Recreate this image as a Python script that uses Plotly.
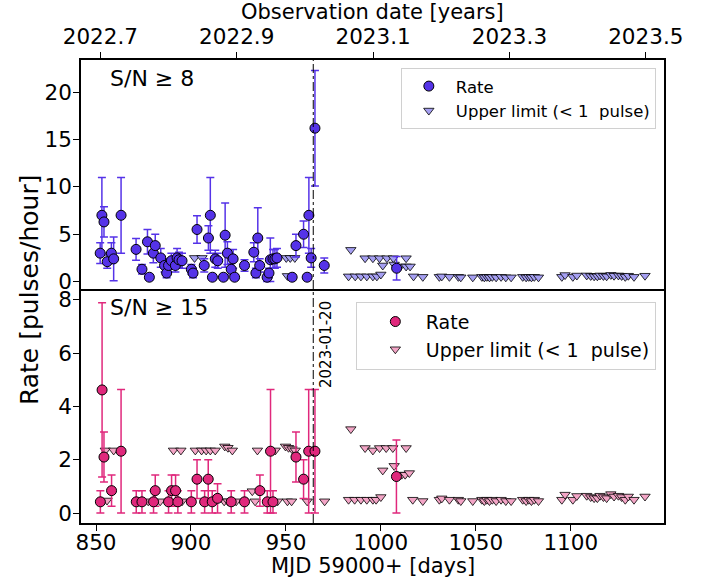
import plotly.graph_objects as go

# ---------------- data ----------------
# S/N >= 8 detections
top_rate_mjd = [852.2, 853.1, 854.2, 855.9, 858.1, 859.3, 863.2, 871.1, 874.2, 877.1,
                878.1, 880.2, 881.2, 884.1, 886.1, 887.2, 888.2, 889.7, 891.8, 892.7,
                893.7, 895.3, 900.2, 901.1, 903.2, 907.0, 909.2, 910.2, 911.3, 912.8,
                914.1, 917.1, 918.0, 919.2, 921.2, 922.2, 923.0, 928.2, 933.1, 934.2,
                935.2, 936.2, 940.1, 941.1, 941.8, 943.2, 944.2, 945.3, 953.3, 955.3,
                959.3, 961.2, 962.1, 963.3, 965.3, 970.2, 1008.3]
top_rate = [3.0, 7.0, 6.3, 2.1, 3.0, 2.4, 7.0, 3.4, 1.3, 4.2,
            0.46, 3.0, 3.8, 2.5, 1.7, 0.9, 1.7, 2.2, 1.7, 2.5,
            2.3, 2.2, 1.3, 0.9, 5.5, 1.7, 4.6, 7.0, 0.46, 2.4,
            2.2, 0.46, 4.9, 3.0, 1.3, 2.4, 0.46, 1.7, 3.1, 0.9,
            4.6, 1.7, 0.46, 0.9, 2.3, 2.4, 2.4, 2.5, 0.46, 3.8,
            5.0, 0.46, 7.0, 2.5, 16.2, 1.7, 1.41]
top_rate_err = [1.1, 4.0, 1.6, 0.7, 1.1, 2.3, 4.0, 1.15, 0.5, 1.3,
                0.3, 1.0, 1.2, 1.0, 0.7, 0.5, 0.7, 0.8, 0.7, 1.0,
                0.8, 0.8, 0.5, 0.5, 1.45, 0.7, 1.3, 4.0, 0.3, 0.9,
                0.8, 0.3, 3.4, 1.2, 0.6, 1.0, 0.3, 0.6, 1.0, 0.5,
                3.2, 0.7, 0.46, 0.5, 2.3, 1.0, 1.0, 1.0, 0.3, 1.2,
                1.4, 0.3, 4.0, 1.0, 6.1, 0.8, 1.25]

top_ul_mjd = [901.9, 905.8, 950.2, 950.8, 952.3, 954.7,
              983.0, 984.2, 986.5, 989.5, 991.7, 992.6, 995.8, 995.8, 997.9, 999.3,
              1000.0, 1001.0, 1003.2, 1006.6, 1007.0, 1010.2, 1013.3, 1013.3, 1015.4,
              1017.2, 1022.1]
top_ul = [2.5, 2.5, 2.5, 0.6, 2.5, 2.5,
          0.55, 3.35, 0.55, 0.55, 2.47, 0.55, 0.55, 2.47, 0.55, 2.47,
          0.75, 1.7, 2.47, 2.47, 1.8, 1.6, 2.47, 1.6, 1.6,
          0.55, 0.5]

# S/N >= 15 detections
bot_rate_mjd = [852.3, 853.2, 854.2, 858.2, 863.2, 871.2, 874.2, 880.3, 881.2, 888.2,
                889.8, 891.9, 893.1, 900.2, 903.2, 907.2, 909.1, 911.2, 914.0, 921.2,
                928.2, 936.3, 940.2, 941.9, 943.2, 955.3, 959.3, 962.0, 965.3, 1008.2]
bot_rate = [0.42, 4.62, 2.1, 0.84, 2.32, 0.42, 0.42, 0.42, 0.84, 0.42,
            0.84, 0.84, 0.42, 0.42, 1.27, 0.42, 1.27, 0.42, 0.55, 0.42,
            0.42, 0.84, 0.42, 2.32, 0.42, 2.1, 1.27, 2.32, 2.32, 1.37]
bot_rate_err = [0.42, 3.27, 0.94, 0.59, 2.32, 0.42, 0.42, 0.42, 0.59, 0.42,
                0.59, 0.59, 0.42, 0.42, 0.73, 0.42, 0.73, 0.42, 0.55, 0.42,
                0.42, 0.59, 0.42, 2.32, 0.42, 0.94, 0.73, 2.32, 2.32, 1.37]

bot_ul_mjd = [854.9, 855.8, 859.3, 877.5, 883.8, 890.8, 894.7, 895.3, 902.3, 905.6,
              908.0, 910.2, 912.8, 917.5, 917.8, 919.5, 919.5, 921.8, 923.8, 932.3,
              933.8, 935.0, 944.4, 945.6, 949.8, 950.8, 951.4, 953.0, 953.2, 954.9,
              961.2, 970.4,
              983.0, 984.2, 986.2, 989.5, 991.7, 992.6, 995.8, 995.8, 997.5, 999.3,
              1000.0, 1001.0, 1002.8, 1006.3, 1007.0, 1011.0, 1012.8, 1013.3, 1015.0, 1016.8,
              1022.1]
bot_ul = [2.35, 0.47, 2.35, 0.44, 0.44, 2.35, 2.35, 0.44, 2.35, 2.35,
          2.35, 2.35, 2.35, 0.44, 2.5, 2.45, 0.44, 2.35, 0.44, 0.82,
          0.44, 2.35, 2.35, 0.44, 2.5, 0.44, 2.45, 0.44, 2.4, 2.35,
          0.44, 0.44,
          0.5, 3.15, 0.5, 0.5, 2.44, 0.5, 0.5, 2.35, 0.5, 2.44,
          0.6, 1.6, 2.44, 2.44, 1.77, 1.44, 1.44, 2.44, 1.5, 0.5,
          0.45]

# upper limits after MJD 59030 (same in both panels)
late_ul_mjd = [1030.8, 1032.1, 1036.1, 1040.8, 1042.1, 1048.4, 1053.2, 1054.5, 1055.8, 1057.2,
               1058.7, 1060.7, 1063.3, 1065.8, 1068.6, 1074.7, 1076.5, 1077.9, 1079.3, 1080.8,
               1083.0, 1095.3, 1097.0, 1101.1, 1103.2, 1108.4, 1110.5, 1112.3, 1114.0, 1115.4,
               1117.2, 1118.9, 1121.1, 1122.8, 1125.1, 1126.8, 1128.7, 1130.3, 1133.3, 1139.1]
late_ul = [0.5, 0.55, 0.5, 0.5, 0.45, 0.45, 0.5, 0.45, 0.5, 0.45,
           0.5, 0.45, 0.5, 0.45, 0.45, 0.5, 0.45, 0.5, 0.45, 0.5,
           0.45, 0.5, 0.69, 0.5, 0.64, 0.65, 0.6, 0.56, 0.56, 0.65,
           0.6, 0.56, 0.71, 0.62, 0.65, 0.6, 0.5, 0.62, 0.5, 0.62]

mjd_ticks = [850, 900, 950, 1000, 1050, 1100]
mjd_range = [842.1, 1149.1]
year_ticks = [2022.7, 2022.9, 2023.1, 2023.3, 2023.5]
year_range = [2022.6716, 2023.5267]
event_mjd = 964.4
event_label = "2023-01-20"

# ---------------- styling ----------------
FONT = "DejaVu Sans"
C_TOP = "#5533e8"
C_TOP_UL = "#a59ff2"
C_BOT = "#e0287c"
C_BOT_UL = "#f3a5c6"
TICK_SIZE = 21.5
TITLE_SIZE = 21

fig = go.Figure()

# top panel
fig.add_trace(go.Scatter(
    x=top_ul_mjd + late_ul_mjd, y=top_ul + late_ul, mode="markers", xaxis="x2", yaxis="y",
    marker=dict(symbol="triangle-down", size=9, color=C_TOP_UL, line=dict(color="black", width=0.8)),
    name="Upper limit (< 1\u00a0\u00a0pulse)", legend="legend"))
fig.add_trace(go.Scatter(
    x=top_rate_mjd, y=top_rate, mode="markers", xaxis="x2", yaxis="y",
    error_y=dict(type="data", array=top_rate_err, color=C_TOP, thickness=1.5, width=4),
    marker=dict(symbol="circle", size=10, color=C_TOP, line=dict(color="black", width=1)),
    name="Rate", legend="legend"))

# bottom panel
fig.add_trace(go.Scatter(
    x=bot_ul_mjd + late_ul_mjd, y=bot_ul + late_ul, mode="markers", xaxis="x", yaxis="y2",
    marker=dict(symbol="triangle-down", size=9, color=C_BOT_UL, line=dict(color="black", width=0.8)),
    name="Upper limit (< 1\u00a0\u00a0pulse)", legend="legend2"))
fig.add_trace(go.Scatter(
    x=bot_rate_mjd, y=bot_rate, mode="markers", xaxis="x", yaxis="y2",
    error_y=dict(type="data", array=bot_rate_err, color=C_BOT, thickness=1.5, width=4),
    marker=dict(symbol="circle", size=10, color=C_BOT, line=dict(color="black", width=1)),
    name="Rate", legend="legend2"))

# invisible trace to carry the top (years) axis
fig.add_trace(go.Scatter(x=year_range, y=[None, None], xaxis="x3", yaxis="y",
                         mode="markers", showlegend=False, hoverinfo="skip"))

split = 0.502
axis_common = dict(showline=True, linecolor="black", linewidth=1.5, mirror=True,
                   ticks="outside", ticklen=6, tickwidth=1.3, tickcolor="black",
                   showgrid=False, zeroline=False,
                   tickfont=dict(family=FONT, size=TICK_SIZE, color="black"))

fig.update_layout(
    width=707, height=583,
    margin=dict(l=81, r=43, t=60, b=60, autoexpand=False),
    paper_bgcolor="white", plot_bgcolor="white",
    font=dict(family=FONT, color="black"),
    xaxis=dict(domain=[0, 1], anchor="y2", range=mjd_range, tickvals=mjd_ticks,
               ticklabelstandoff=-7, **axis_common),
    yaxis2=dict(domain=[0, split], anchor="x", range=[-0.375, 8.35], tickvals=[0, 2, 4, 6, 8],
                ticklabelstandoff=-3, **axis_common),
    xaxis2=dict(domain=[0, 1], anchor="y", range=mjd_range, matches="x", showticklabels=False,
                showline=False, ticks="", showgrid=False, zeroline=False),
    yaxis=dict(domain=[split, 1], anchor="x2", range=[-0.95, 23.4], tickvals=[0, 5, 10, 15, 20],
               ticklabelstandoff=-3, **axis_common),
    xaxis3=dict(overlaying="x2", side="top", anchor="y", range=year_range, tickvals=year_ticks,
                ticktext=[f"{v:.1f}" for v in year_ticks],
                showline=True, linecolor="black", linewidth=1.5,
                ticks="outside", ticklen=6, tickwidth=1.3, tickcolor="black",
                showgrid=False, zeroline=False,
                tickfont=dict(family=FONT, size=TICK_SIZE, color="black")),
    legend=dict(x=0.986, y=0.983, xanchor="right", yanchor="top",
                bgcolor="rgba(255,255,255,0.85)", bordercolor="#d0d0d0", borderwidth=1,
                font=dict(family=FONT, size=16.5, color="black"), itemwidth=44,
                tracegroupgap=0, traceorder="reversed"),
    legend2=dict(x=0.986, y=0.478, xanchor="right", yanchor="top",
                 bgcolor="rgba(255,255,255,0.85)", bordercolor="#d0d0d0", borderwidth=1,
                 font=dict(family=FONT, size=19, color="black"), itemwidth=51,
                 indentation=8, tracegroupgap=0, traceorder="reversed"),
    showlegend=True,
)

fig.add_shape(type="line", xref="x", yref="paper", x0=event_mjd, x1=event_mjd, y0=0, y1=1,
              line=dict(color="black", width=1, dash="dashdot"))

fig.add_annotation(x=event_mjd, xref="x", y=0.385, yref="paper", text=event_label,
                   textangle=-90, showarrow=False, xshift=12,
                   font=dict(family=FONT, size=15, color="black"))
fig.add_annotation(x=0.047, xref="paper", y=0.961, yref="paper", text="S/N ≥ 8",
                   showarrow=False, xanchor="left", yanchor="middle",
                   font=dict(family=FONT, size=22, color="black"))
fig.add_annotation(x=0.047, xref="paper", y=0.465, yref="paper", text="S/N ≥ 15",
                   showarrow=False, xanchor="left", yanchor="middle",
                   font=dict(family=FONT, size=22, color="black"))
fig.add_annotation(x=0.5, xref="paper", y=-0.092, yref="paper", text="MJD 59000+ [days]",
                   showarrow=False, yanchor="middle",
                   font=dict(family=FONT, size=TITLE_SIZE, color="black"))
fig.add_annotation(x=0.5, xref="paper", y=1.1036, yref="paper", text="Observation date [years]",
                   showarrow=False, yanchor="middle",
                   font=dict(family=FONT, size=TITLE_SIZE, color="black"))
fig.add_annotation(x=-0.087, xref="paper", y=0.5036, yref="paper", text="Rate [pulses/hour]",
                   showarrow=False, textangle=-90, xanchor="center", yanchor="middle",
                   font=dict(family=FONT, size=25, color="black"))

# remove the page's default body margin so the figure sits at the window's corner
fig.write_html("out.html", config={"displayModeBar": False},
               post_script="document.body.style.margin='0';document.body.style.padding='0';")
